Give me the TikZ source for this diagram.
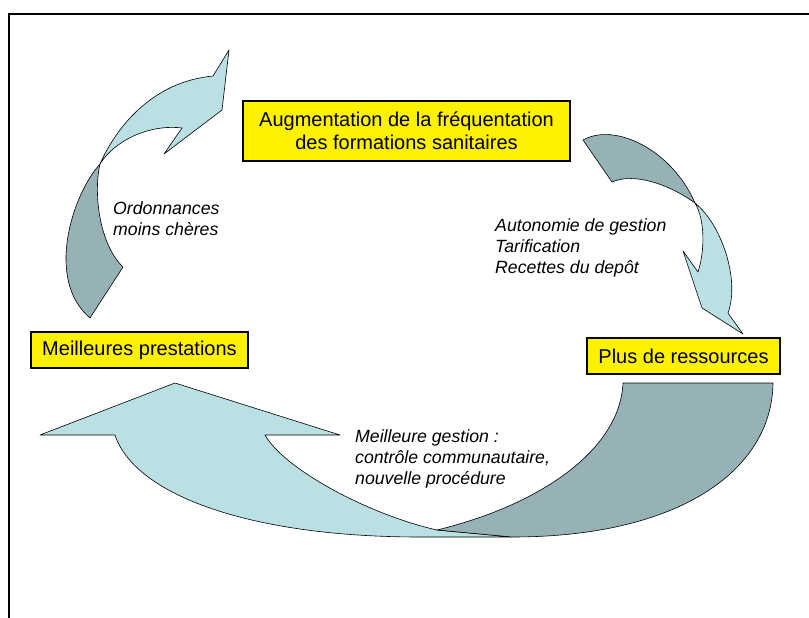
\documentclass[tikz,border=0pt]{standalone}
\usepackage{fontspec}
\setmainfont{Liberation Sans}
\definecolor{arrowlight}{RGB}{186,224,227}
\definecolor{arrowdark}{RGB}{150,178,182}
\tikzset{
  yellowbox/.style={draw=black, line width=1.5pt, fill=yellow, inner sep=0pt, align=center, font=\fontsize{20}{23}\selectfont},
  itallabel/.style={inner sep=0pt, align=left, anchor=west, font=\fontsize{17.7}{21}\selectfont\itshape},
  lightpart/.style={fill=arrowlight, draw=black, line width=0.6pt, line join=round},
  darkpart/.style={fill=arrowdark, draw=black, line width=0.6pt, line join=round},
  frameline/.style={draw=black, line width=2pt}
}
\begin{document}
\begin{tikzpicture}[x=1pt,y=-1pt]
\useasboundingbox (0,0) rectangle (809,618);
% frame
\draw[frameline] (9,618) -- (9,14) -- (809,14);

% top-left curved arrow
\filldraw[lightpart] (100,164) .. controls (115,130) and (150,82) .. (213,76) -- (229,50) -- (222,110) -- (164,154) -- (182,128) .. controls (150,124) and (115,140) .. (100,164) -- cycle;
\filldraw[darkpart] (100,164) .. controls (72,195) and (45,280) .. (90,318) -- (123,267) .. controls (100,245) and (93,195) .. (100,164) -- cycle;

% top-right curved arrow
\filldraw[lightpart] (695,203) .. controls (722,225) and (740,280) .. (728,313) -- (743,334) -- (702,308) -- (683,251) -- (698,272) .. controls (705,250) and (705,220) .. (695,203) -- cycle;
\filldraw[darkpart] (583,140) .. controls (615,122) and (672,150) .. (695,203) .. controls (670,185) and (635,172) .. (612,182) -- cycle;

% bottom big arrow
\filldraw[lightpart] (175,383) -- (340,435) -- (265,435) .. controls (285,470) and (370,515) .. (437,530) -- (512,537) -- (420,537) .. controls (250,537) and (135,495) .. (115,435) -- (40,435) -- cycle;
\filldraw[darkpart] (437,530) .. controls (540,505) and (620,450) .. (623,383) -- (773,383) .. controls (772,470) and (680,537) .. (512,537) -- cycle;

% boxes
\node[yellowbox, minimum width=327pt, minimum height=60pt] (freq) at (406.5,131) {Augmentation de la fréquentation\\des formations sanitaires};
\node[yellowbox, minimum width=193pt, minimum height=36pt] (ress) at (683.5,356) {Plus de ressources};
\node[yellowbox, minimum width=217pt, minimum height=36pt] (prest) at (139.5,350) {Meilleures prestations};

% labels
\node[itallabel] (ordo) at (113,218.5) {Ordonnances\\moins chères};
\node[itallabel] (auto) at (495,248) {Autonomie de gestion\\Tarification\\Recettes du depôt};
\node[itallabel] (gest) at (355,459) {Meilleure gestion :\\contrôle communautaire,\\nouvelle procédure};
\end{tikzpicture}
\end{document}
